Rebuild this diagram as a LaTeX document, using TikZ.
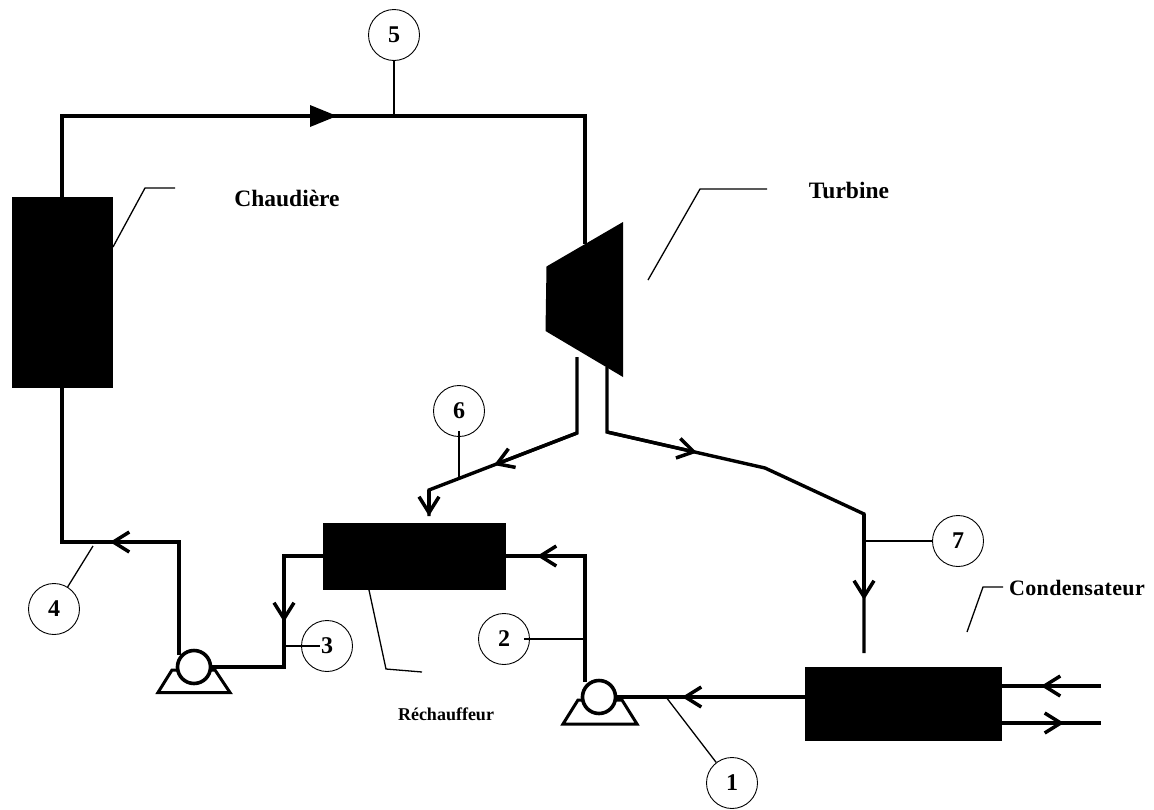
\documentclass[tikz,border=0pt]{standalone}
\usepackage{fontspec}
\setmainfont{Liberation Serif}
\usetikzlibrary{arrows.meta}
\tikzset{
  pipe/.style={line width=3.4pt, line join=miter, >={Straight Barb[length=16pt,width=20pt,line width=3.5pt]}},
  leader/.style={line width=1.3pt},
  blackbox/.style={fill=black, draw=none, inner sep=0pt},
  numcircle/.style={circle, draw, line width=0.9pt, minimum size=51pt, inner sep=0pt, font=\fontsize{24}{24}\selectfont\bfseries},
  pumpball/.style={circle, draw, fill=white, line width=3.6pt, minimum size=33pt, inner sep=0pt},
  lbl/.style={font=\fontsize{23.5}{24}\selectfont\bfseries, inner sep=0pt},
  lblsmall/.style={font=\fontsize{18}{18}\selectfont\bfseries, inner sep=0pt},
  lblwide/.style={font=\fontsize{22}{22}\selectfont\bfseries\addfontfeature{LetterSpace=1.5}, inner sep=0pt}
}
\begin{document}
\begin{tikzpicture}[x=1pt, y=-1pt]
\useasboundingbox (0,0) rectangle (1154,809);

% Equipment
\node[blackbox, minimum width=101pt, minimum height=191pt] (chaudiere) at (62.5,292.5) {};
\node[blackbox, minimum width=183pt, minimum height=67pt] (rechauffeur) at (414.5,556.5) {};
\node[blackbox, minimum width=197pt, minimum height=74pt] (condenseur) at (903.5,704) {};
\fill (546.5,266.5) coordinate (t1) -- (623,222) coordinate (t2) -- (623,377) coordinate (t3) -- (545.5,331) coordinate (t4) -- cycle;

% Pipe junctions
\coordinate (a1) at (62,197);
\coordinate (a2) at (62,116);
\coordinate (a3) at (585,116);
\coordinate (a4) at (585,244);
\coordinate (b1) at (577,357);
\coordinate (b2) at (577,433);
\coordinate (b3) at (429,490);
\coordinate (b4) at (429,516);
\coordinate (c1) at (607,367);
\coordinate (c2) at (607,432);
\coordinate (c3) at (765,468);
\coordinate (c4) at (864,514);
\coordinate (c5) at (864,653);
\coordinate (d1) at (805,697);
\coordinate (e1) at (506,556);
\coordinate (e2) at (585,556);
\coordinate (e3) at (585,682);
\coordinate (f1) at (323,556);
\coordinate (f2) at (284,556);
\coordinate (f3) at (284,667);
\coordinate (g1) at (179,655);
\coordinate (g2) at (179,542);
\coordinate (g3) at (62,542);
\coordinate (g4) at (62,388);
\coordinate (h1) at (1002,686);
\coordinate (h2) at (1101,686);
\coordinate (h3) at (1002,723);
\coordinate (h4) at (1101,723);

% Pumps
\draw[pipe, line width=3pt] (158,692.5) coordinate (p1) -- (172,670) -- (215,670) -- (230,692.5) -- cycle;
\draw[pipe, line width=3pt] (563,724) coordinate (p2) -- (578,700) -- (622,700) -- (637,724) -- cycle;
\node[pumpball] (pompeA) at (194,667) {};
\node[pumpball] (pompeB) at (599,697) {};

% Main circuit
\draw[pipe] (a1) -- (a2) -- (a3) -- (a4);
\fill (310,105) coordinate (m1) -- (337,116) coordinate (m2) -- (310,127) coordinate (m3) -- cycle;
\draw[pipe] (b1) -- (b2) -- (b3) -- (b4);
\draw[pipe, ->] (b2) -- (494,465);
\draw[pipe, ->] (b3) -- (b4);
\draw[pipe] (c1) -- (c2) -- (c3) -- (c4) -- (c5);
\draw[pipe, ->] (c2) -- (697,452.5);
\draw[pipe, ->] (c4) -- (864,600);
\draw[pipe] (d1) -- (pompeB.east);
\draw[pipe, ->] (d1) -- (682,697);
\draw[pipe] (e1) -- (e2) -- (e3);
\draw[pipe, ->] (e2) -- (537,556);
\draw[pipe] (f1) -- (f2) -- (f3) -- (pompeA.east);
\draw[pipe, ->] (f2) -- (284,622);
\draw[pipe] (g1) -- (g2) -- (g3) -- (g4);
\draw[pipe, ->] (g2) -- (110,542);
\draw[pipe] (h1) -- (h2);
\draw[pipe, ->] (h2) -- (1041,686);
\draw[pipe] (h3) -- (h4);
\draw[pipe, ->] (h3) -- (1064,723);

% State points
\node[numcircle] (n1) at (732,783) {1};
\node[numcircle] (n2) at (504,639) {2};
\node[numcircle] (n3) at (327,646) {3};
\node[numcircle] (n4) at (54,609) {4};
\node[numcircle] (n5) at (394,35) {5};
\node[numcircle] (n6) at (459,411) {6};
\node[numcircle] (n7) at (958,541) {7};

\coordinate (s1) at (666,697);
\coordinate (s2) at (585,639);
\coordinate (s2b) at (524,639);
\coordinate (s3) at (284,646);
\coordinate (s3b) at (320,646);
\coordinate (s4) at (93,546);
\coordinate (s5) at (394,116);
\coordinate (s6) at (459,478);
\coordinate (s6b) at (459,431);
\coordinate (s7) at (864,541);
\draw[leader] (s1) -- (n1);
\draw[leader] (s2) -- (s2b);
\draw[leader] (s3) -- (s3b);
\draw[leader] (s4) -- (n4);
\draw[leader] (s5) -- (n5);
\draw[leader] (s6) -- (s6b);
\draw[leader] (s7) -- (n7);

% Labels
\node[lbl] (lchaud) at (287,198) {Chaudière};
\node[lbl] (lturb) at (849,190) {Turbine};
\node[lblwide] (lcond) at (1077,588) {Condensateur};
\node[lblsmall] (lrech) at (446,714) {Réchauffeur};

\coordinate (k1) at (145,188);
\coordinate (k2) at (175,188);
\coordinate (k3) at (648,280);
\coordinate (k4) at (700,189);
\coordinate (k5) at (767,189);
\coordinate (k6) at (967,632);
\coordinate (k7) at (983,587);
\coordinate (k8) at (1003,587);
\coordinate (k9) at (369,590);
\coordinate (k10) at (386,669);
\coordinate (k11) at (422,672);
\coordinate (k12) at (113,247);
\draw[leader] (k12) -- (k1) -- (k2);
\draw[leader] (k3) -- (k4) -- (k5);
\draw[leader] (k6) -- (k7) -- (k8);
\draw[leader] (k9) -- (k10) -- (k11);
\end{tikzpicture}
\end{document}
